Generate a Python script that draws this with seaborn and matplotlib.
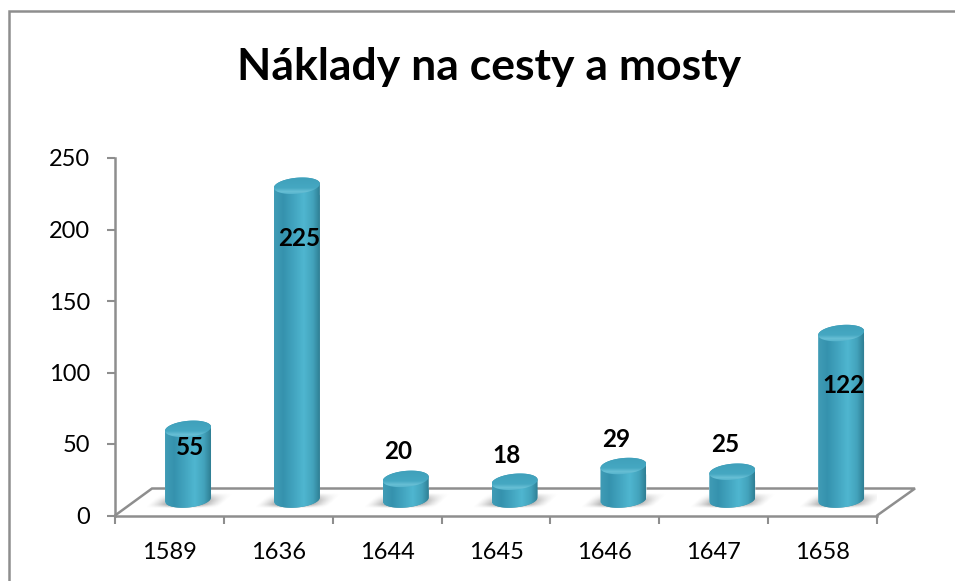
import numpy as np
import matplotlib
matplotlib.use("Agg")
import matplotlib.pyplot as plt
import seaborn as sns
from matplotlib.colors import LinearSegmentedColormap
from matplotlib.lines import Line2D
from matplotlib.patches import PathPatch
from matplotlib.path import Path

years = ["1589", "1636", "1644", "1645", "1646", "1647", "1658"]
costs = [55, 225, 20, 18, 29, 25, 122]
y_ticks = [0, 50, 100, 150, 200, 250]
title = "Náklady na cesty a mosty"

# label offsets in pixels from the value position
label_offsets = [(21, -11), (21, -45), (11, 35), (11, 34), (11, 35), (11, 35), (21, -44)]

GREY = "#8e8e8e"
W, H = 955, 581

sns.set_theme(style="white")
plt.rcParams["font.family"] = ["Lato", "DejaVu Sans"]

fig = plt.figure(figsize=(W / 100, H / 100), dpi=100, facecolor="white")
ax = fig.add_axes([115 / W, 1 - 515.5 / H, 762 / W, 357.5 / H])
ax.set_facecolor("none")

sns.barplot(x=years, y=costs, width=0.42, color="#3a9ab6", ax=ax, zorder=4)

XPX = 1 / (762 / 7)
YPX = 250 / 357.5
SHIFT = 18.6 * XPX

# depth floor
ax.plot([-0.5, -0.5 + 37 * XPX, 6.5 + 38 * XPX, 6.5],
        [0, 27 * YPX, 27 * YPX, 0],
        color=GREY, lw=1.8, clip_on=False, zorder=1, solid_joinstyle="miter")

body_cm = LinearSegmentedColormap.from_list(
    "body", [(0, "#409cb6"), (0.2, "#3592ae"), (0.65, "#4fb6d0"),
             (0.85, "#43a3bc"), (1, "#2f7f94")])
cap_cm = LinearSegmentedColormap.from_list(
    "cap", [(0, "#3f9fba"), (0.6, "#45a8c2"), (0.78, "#68bfd5"), (1, "#4aacc6")])
body_grad = np.linspace(0, 1, 128).reshape(1, -1)
cap_grad = np.linspace(0, 1, 64).reshape(-1, 1)

# soft shadow on the floor, leaning to the right at the top
u, v = np.meshgrid(np.linspace(0, 1, 160), np.linspace(0, 1, 50))
u_skew = u - 0.18 * (1 - v)
fade_x = np.clip(np.minimum((u_skew - 0.02) / 0.3, (0.82 - u_skew) / 0.3), 0, 1)
fade_y = np.clip(np.minimum(v / 0.5, (1 - v) / 0.25), 0, 1)
shadow = np.zeros((50, 160, 4))
shadow[..., :3] = 0.42
shadow[..., 3] = 0.9 * fade_x ** 1.3 * fade_y

t = np.linspace(0, 2 * np.pi, 100)
rx = 23 * XPX
ry = 8 * YPX
tilt = 2 * YPX
base = 16 * YPX

for bar, val in zip(ax.patches, costs):
    cx = bar.get_x() + bar.get_width() / 2 + SHIFT
    bar.set_x(cx - bar.get_width() / 2)
    top = val + 8 * YPX

    # shadow
    ax.imshow(shadow, extent=(cx - 46 * XPX, cx + 46 * XPX, base - 9 * YPX, base + 6 * YPX),
              aspect="auto", zorder=2, interpolation="bilinear")

    # cylinder outline
    ang = np.linspace(0, np.pi, 50)
    top_arc = np.column_stack([cx + rx * np.cos(ang), top + ry * np.sin(ang) + tilt * np.cos(ang)])
    ang2 = np.linspace(np.pi, 2 * np.pi, 50)
    bot_arc = np.column_stack([cx + rx * np.cos(ang2), base + ry * np.sin(ang2) + tilt * np.cos(ang2)])
    outline = Path(np.vstack([top_arc, bot_arc, top_arc[:1]]))
    clip = PathPatch(outline, transform=ax.transData, fc="none", ec="none")
    ax.add_patch(clip)
    bar.set_clip_path(clip)

    im = ax.imshow(body_grad, cmap=body_cm, extent=(cx - rx, cx + rx, base - ry - tilt, top + ry + tilt),
                   aspect="auto", zorder=5, interpolation="bilinear")
    im.set_clip_path(clip)

    # top cap
    cap = Path(np.column_stack([cx + rx * np.cos(t), top + ry * np.sin(t) + tilt * np.cos(t)]))
    im = ax.imshow(cap_grad, cmap=cap_cm, extent=(cx - rx, cx + rx, top - ry - tilt, top + ry + tilt),
                   aspect="auto", zorder=6, interpolation="bilinear")
    im.set_clip_path(cap, transform=ax.transData)

for i, (val, off) in enumerate(zip(costs, label_offsets)):
    ax.annotate(str(val), (i, val), xytext=off, textcoords="offset pixels",
                ha="center", va="center", fontsize=17.5, fontweight="bold",
                color="black", zorder=8, annotation_clip=False)

ax.set_xlim(-0.5, 6.5)
ax.set_ylim(0, 250)
ax.set_yticks(y_ticks)
ax.set_xlabel("")
ax.set_ylabel("")

sns.despine(ax=ax, top=True, right=True)
for side in ["left", "bottom"]:
    ax.spines[side].set_color(GREY)
    ax.spines[side].set_linewidth(1.8)

ax.set_xticks(np.arange(-0.5, 7, 1), minor=True)
ax.tick_params(axis="x", which="major", length=0, pad=19, labelsize=17, labelcolor="black")
ax.tick_params(axis="x", which="minor", length=5.5, width=1.5, color=GREY, bottom=True)
ax.tick_params(axis="y", which="major", length=5.8, width=1.5, color=GREY, pad=12,
               labelsize=17, labelcolor="black", left=True)

fig.text(489.5 / W, 1 - 67 / H, title, ha="center", va="center",
         fontsize=32, fontweight="bold", color="black")

# chart frame, only the left and top edges are inside the picture
fig.add_artist(Line2D([8.5 / W, 8.5 / W, 1], [0, 1 - 11 / H, 1 - 11 / H],
                      transform=fig.transFigure, color=GREY, lw=1.8,
                      solid_joinstyle="miter"))

fig.savefig("out.png", dpi=100, facecolor="white")
